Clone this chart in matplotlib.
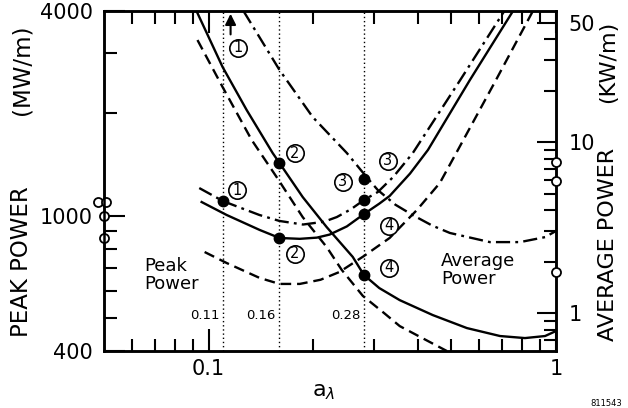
import matplotlib.pyplot as plt
from matplotlib.ticker import FixedLocator, NullFormatter, FixedFormatter

plt.rcParams["font.family"] = ["DejaVu Sans"]

# peak power curves (left axis, MW/m)
peak_dashdot_x = [0.094, 0.11, 0.14, 0.16, 0.187, 0.215, 0.234, 0.257, 0.28, 0.307, 0.34,
                  0.387, 0.53, 0.71]
peak_dashdot_y = [1206, 1104, 1005, 965, 942, 960, 991, 1045, 1112, 1174, 1300,
                  1528, 2506, 4000]

peak_solid_x = [0.0955, 0.1127, 0.1403, 0.16, 0.183, 0.205, 0.223, 0.25, 0.28, 0.31,
                0.332, 0.38, 0.428, 0.565, 0.752]
peak_solid_y = [1097, 1005, 908, 860, 855, 862, 880, 930, 1011, 1085,
                1143, 1330, 1561, 2506, 4000]

peak_dashed_x = [0.0974, 0.1127, 0.1403, 0.16, 0.183, 0.21, 0.238, 0.28, 0.332, 0.398,
                 0.463, 0.522, 0.667, 0.858]
peak_dashed_y = [782, 726, 656, 630, 630, 648, 683, 761, 860, 1040,
                 1248, 1561, 2473, 4000]

# average power curves (right axis, KW/m)
avg_solid_x = [0.0923, 0.1097, 0.1287, 0.1529, 0.16, 0.1866, 0.2188, 0.26, 0.28, 0.31,
               0.355, 0.442, 0.554, 0.69, 0.814, 0.93, 1.0]
avg_solid_y = [58.4, 27.5, 15.4, 8.63, 7.54, 4.77, 3.18, 2.13, 1.67, 1.40,
               1.19, 0.973, 0.817, 0.734, 0.714, 0.734, 0.785]

avg_dashed_x = [0.0929, 0.1097, 0.133, 0.157, 0.1866, 0.2188, 0.2416, 0.278, 0.32, 0.355,
                0.42, 0.485]
avg_dashed_y = [39.5, 21.0, 10.3, 6.24, 3.64, 2.43, 1.79, 1.26, 1.00, 0.839,
                0.70, 0.6]

avg_dashdot_x = [0.126, 0.16, 0.1994, 0.25, 0.285, 0.307, 0.345, 0.387, 0.44, 0.495,
                 0.645, 0.788, 0.93, 1.0]
avg_dashdot_y = [58.4, 26.4, 14.0, 8.63, 6.24, 5.24, 4.30, 3.74, 3.25, 2.94,
                 2.60, 2.60, 2.78, 3.02]

# design points
a_marks = [0.11, 0.16, 0.28]
a_mark_labels = ["0.11", "0.16", "0.28"]
peak_pts_x = [0.11, 0.16, 0.28, 0.28]
peak_pts_y = [1104, 860, 1112, 1011]
avg_pts_x = [0.16, 0.28, 0.28]
avg_pts_y = [7.54, 6.08, 1.67]

# open circles on the axes
left_open_x = [0.0479, 0.0508, 0.05, 0.05]
left_open_y = [1097, 1097, 1000, 860]
right_open_y = [7.64, 5.91, 1.74]

# case numbers next to the points
case_nums = ["1", "1", "2", "2", "3", "3", "4", "4"]
case_x = [0.1205, 0.1213, 0.177, 0.177, 0.328, 0.2433, 0.330, 0.330]
case_y = [1190, 3116, 1528, 772, 1449, 1257, 933, 702]

fig = plt.figure(figsize=(6.28, 4.08), dpi=100)
ax = fig.add_axes([104 / 628, 57 / 408, 452 / 628, 340 / 408])
ax2 = ax.twinx()

ax.set_xscale("log")
ax.set_yscale("log")
ax2.set_yscale("log")
ax.set_xlim(0.05, 1.0)
ax.set_ylim(400, 4000)
ax2.set_ylim(0.6, 58.4)

lw = 1.7
dd = (6, 2.2, 1.2, 2.2)
ax.plot(peak_dashdot_x, peak_dashdot_y, color="k", lw=lw, dashes=dd)
ax.plot(peak_solid_x, peak_solid_y, color="k", lw=lw)
ax.plot(peak_dashed_x, peak_dashed_y, color="k", lw=lw, dashes=(4.5, 2.5))
ax2.plot(avg_solid_x, avg_solid_y, color="k", lw=lw)
ax2.plot(avg_dashed_x, avg_dashed_y, color="k", lw=lw, dashes=(4.5, 2.5))
ax2.plot(avg_dashdot_x, avg_dashdot_y, color="k", lw=lw, dashes=dd)

for a, lab in zip(a_marks, a_mark_labels):
    ax.axvline(a, color="k", lw=1.0, ls=(0, (1, 2)))
    ax.text(a * 0.975, 510, lab, ha="right", va="center", fontsize=9.5)

ax.plot(peak_pts_x, peak_pts_y, "o", color="k", ms=7.5, zorder=5)
ax2.plot(avg_pts_x, avg_pts_y, "o", color="k", ms=7.5, zorder=5)

ax.plot(left_open_x, left_open_y, "o", mfc="white", mec="k", mew=1.3, ms=6.5,
        clip_on=False, zorder=6)
ax2.plot([1.0] * len(right_open_y), right_open_y, "o", mfc="white", mec="k", mew=1.3,
         ms=6.5, clip_on=False, zorder=6)

# circled labels
ax.plot(case_x, case_y, "o", mfc="white", mec="k", mew=1.2, ms=12.5, zorder=4)
for n, cx, cy in zip(case_nums, case_x, case_y):
    ax.text(cx, cy, n, ha="center", va="center", fontsize=10.5, zorder=7)
ax.annotate("", xy=(0.1157, 4000), xytext=(0.1157, 3350),
            arrowprops=dict(arrowstyle="-|>", lw=1.5, color="k", mutation_scale=16),
            annotation_clip=False)

ax.text(0.0654, 669, "Peak\nPower", ha="left", va="center", fontsize=13, linespacing=0.95)
ax.text(0.466, 692, "Average\nPower", ha="left", va="center", fontsize=13, linespacing=0.95)

# ticks
ax.xaxis.set_major_locator(FixedLocator([0.1, 1.0]))
ax.xaxis.set_major_formatter(FixedFormatter(["0.1", "1"]))
ax.xaxis.set_minor_locator(FixedLocator([0.06, 0.07, 0.08, 0.09, 0.2, 0.3, 0.4, 0.5,
                                         0.6, 0.7, 0.8, 0.9]))
ax.xaxis.set_minor_formatter(NullFormatter())
ax.yaxis.set_major_locator(FixedLocator([400, 1000, 4000]))
ax.yaxis.set_major_formatter(FixedFormatter(["400", "1000", "4000"]))
ax.yaxis.set_minor_locator(FixedLocator([500, 600, 700, 800, 900, 2000, 3000]))
ax.yaxis.set_minor_formatter(NullFormatter())
ax2.yaxis.set_major_locator(FixedLocator([1, 10, 50]))
ax2.yaxis.set_major_formatter(FixedFormatter(["1", "10", "50"]))
ax2.yaxis.set_minor_locator(FixedLocator([0.7, 0.8, 0.9, 2, 3, 4, 5, 6, 7, 8, 9,
                                          20, 30, 40]))
ax2.yaxis.set_minor_formatter(NullFormatter())

ax.tick_params(axis="x", which="both", direction="in", top=True, width=1.5,
               labelsize=15, pad=6)
ax.tick_params(axis="x", which="major", length=16)
ax.tick_params(axis="x", which="minor", length=9)
ax.tick_params(axis="y", which="both", direction="in", right=False, width=1.5,
               labelsize=15, pad=8)
ax.tick_params(axis="y", which="major", length=15)
ax.tick_params(axis="y", which="minor", length=9)
ax2.tick_params(axis="y", which="both", direction="in", left=False, width=1.5,
                labelsize=15, pad=9)
ax2.tick_params(axis="y", which="major", length=14)
ax2.tick_params(axis="y", which="minor", length=9)

for a in (ax, ax2):
    for s in a.spines.values():
        s.set_linewidth(1.8)

fig.text(22 / 628, 1 - 262 / 408, "PEAK POWER", rotation=90,
         ha="center", va="center", fontsize=16.5)
fig.text(22 / 628, 1 - 70 / 408, "(MW/m)", rotation=90,
         ha="center", va="center", fontsize=16.5)
fig.text(608 / 628, 1 - 244 / 408, "AVERAGE POWER", rotation=90,
         ha="center", va="center", fontsize=16)
fig.text(608 / 628, 1 - 62 / 408, "(KW/m)", rotation=90,
         ha="center", va="center", fontsize=16)
fig.text(324 / 628, 1 - 392 / 408, r"a$_{\lambda}$", ha="center", va="center", fontsize=16)
fig.text(0.99, 0.0, "811543", ha="right", va="bottom", fontsize=6)

fig.savefig("out.png", dpi=100)
